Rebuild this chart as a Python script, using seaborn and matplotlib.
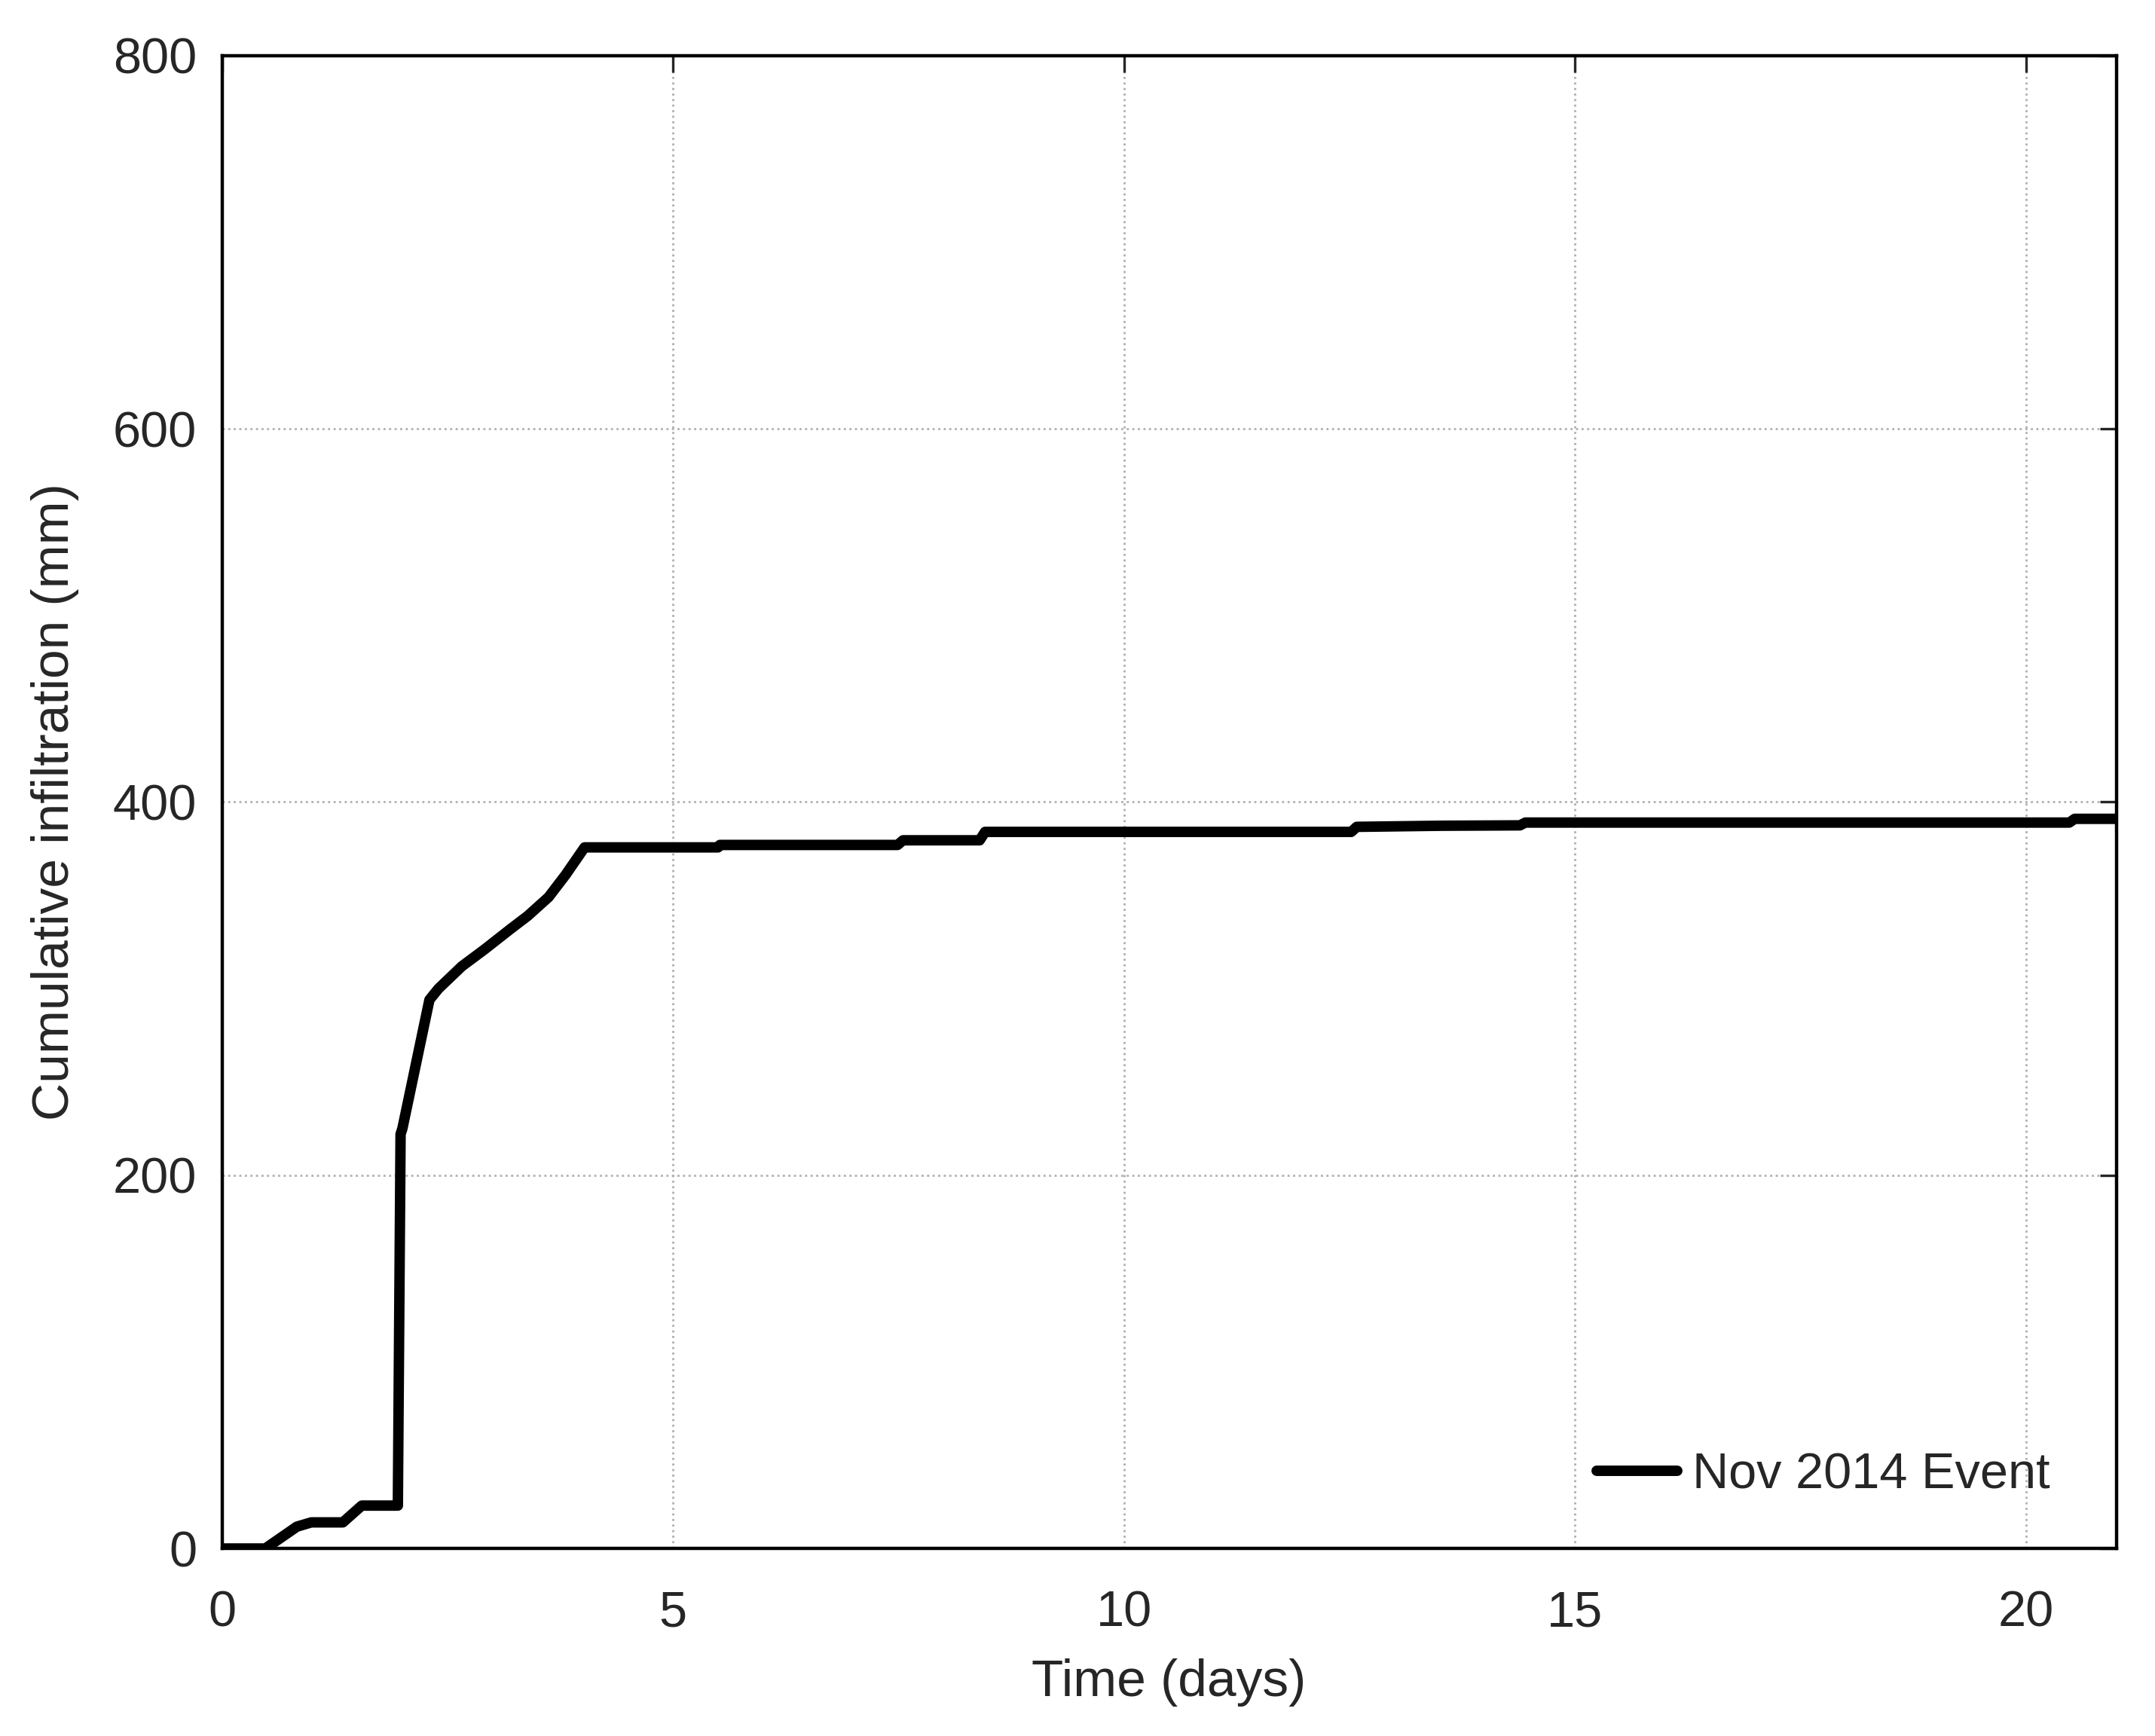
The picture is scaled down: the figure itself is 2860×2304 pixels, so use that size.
import seaborn as sns
import pandas as pd
import matplotlib.pyplot as plt

# Cumulative infiltration
time_days = [0, 0.48, 0.83, 0.99, 1.34, 1.55, 1.95, 1.98, 2.00, 2.30, 2.40, 2.66,
             2.91, 3.20, 3.39, 3.62, 3.81, 4.02, 5.50, 5.52, 7.49, 7.55, 8.40, 8.46,
             12.52, 12.58, 13.53, 14.39, 14.45, 20.48, 20.54, 21.0]
infil_mm = [0, 0, 11.7, 14, 14, 23, 23, 222, 225, 294, 300, 312,
            321, 332, 339, 349, 361, 375.7, 375.7, 377, 377, 379.5, 379.5, 384,
            384, 386.7, 387.3, 387.5, 389, 389, 391, 391]
event_name = "Nov 2014 Event"

x_ticks = [0, 5, 10, 15, 20]
y_ticks = [0, 200, 400, 600, 800]

df = pd.DataFrame({"Time (days)": time_days, "Cumulative infiltration (mm)": infil_mm})
df["event"] = event_name

sns.set_style("white")
plt.rcParams['font.family'] = ['Liberation Sans', 'DejaVu Sans']
plt.rcParams['xtick.direction'] = 'in'
plt.rcParams['ytick.direction'] = 'in'

fig = plt.figure(figsize=(14.3, 11.52), dpi=200)
ax = fig.add_axes([0.103, 0.108, 0.879, 0.860])

sns.lineplot(data=df, x="Time (days)", y="Cumulative infiltration (mm)", hue="event",
             palette=["black"], linewidth=5, sort=False, estimator=None, ax=ax)

ax.set_xlim(0, 21)
ax.set_ylim(0, 800)
ax.set_xticks(x_ticks)
ax.set_yticks(y_ticks)
ax.grid(True, linestyle=':', color='#b0b0b0', linewidth=1.0)
ax.set_axisbelow(True)

for s in ax.spines.values():
    s.set_visible(True)
    s.set_color('black')
    s.set_linewidth(1.6)

ax.tick_params(axis='x', pad=20)
ax.tick_params(axis='y', pad=12)
ax.tick_params(axis='both', which='both', direction='in', length=8, width=1.2,
               top=True, right=True, labelsize=24, labelcolor='#262626')
ax.set_xlabel("Time (days)", fontsize=25, color='#262626', labelpad=10)
ax.set_ylabel("Cumulative infiltration (mm)", fontsize=25, color='#262626', labelpad=16)

leg = ax.legend(loc='center right', bbox_to_anchor=(0.965, 0.049), frameon=False,
                fontsize=24, handlelength=1.6, handletextpad=0.3,
                borderaxespad=0, borderpad=0)
leg.set_title(None)

fig.savefig("out.png", dpi=200, facecolor='white')
